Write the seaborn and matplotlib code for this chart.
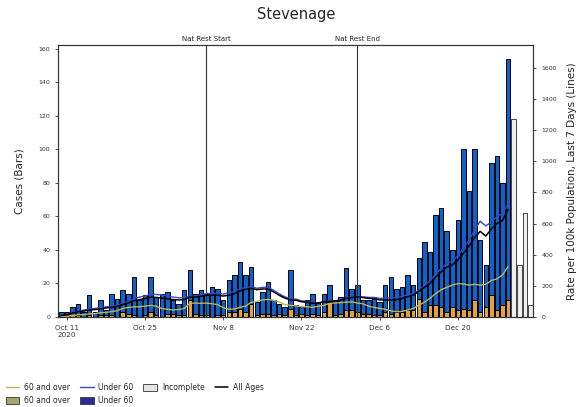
import matplotlib
matplotlib.use("Agg")
import matplotlib.pyplot as plt
import matplotlib.transforms as mtransforms
from matplotlib.patches import Patch
from matplotlib.lines import Line2D
import pandas as pd
import seaborn as sns

# daily cases, complete days
dates = pd.date_range("2020-10-10", "2020-12-29", freq="D")
over60 = [0, 1, 1, 1, 0, 1, 0, 1, 1, 1, 0, 3, 2, 1, 0, 1, 3, 1, 0, 2, 2, 1,
          1, 10, 2, 1, 1, 0, 1, 1, 3, 3, 5, 3, 8, 1, 2, 2, 1, 2, 1, 5, 1, 2, 1, 2, 1, 3, 9, 1, 2, 4,
          4, 3, 2, 2, 1, 1, 3, 2, 3, 3, 4, 4, 11, 3, 7, 7, 6, 3, 6, 4, 5, 4, 10, 3, 6, 13, 4, 7, 10]
under60 = [3, 2, 5, 7, 3, 12, 3, 9, 3, 13, 11, 13, 12, 23, 10, 12, 21, 11, 14, 13, 8, 7,
           15, 18, 12, 15, 13, 18, 16, 9, 19, 22, 28, 22, 22, 8, 13, 19, 9, 6, 5, 23, 6, 4, 9, 12, 8, 11, 10, 9, 10, 25,
           13, 16, 8, 8, 11, 8, 16, 22, 14, 15, 21, 15, 24, 42, 32, 54, 59, 48, 34, 54, 95, 71, 90, 43, 25, 79, 92, 73, 144]

# incomplete days
incomplete_dates = pd.date_range("2020-12-30", "2021-01-02", freq="D")
incomplete = [118, 31, 62, 7]

# rate per 100k, last 7 days
rate_over60 = [0, 5, 10, 15, 15, 20, 22, 28, 30, 35, 40, 55, 62, 65, 66, 70, 75, 70, 55, 50, 45, 48,
               55, 88, 90, 88, 90, 85, 80, 60, 50, 52, 62, 70, 95, 100, 110, 113, 108, 98, 80, 75, 72, 66, 66, 62, 70, 75, 88, 90, 92, 95,
               98, 90, 85, 70, 62, 55, 50, 40, 34, 36, 45, 55, 75, 95, 120, 150, 175, 190, 205, 215, 212, 205, 210, 205, 210, 235, 245, 270, 325]
rate_under60 = [10, 17, 28, 40, 44, 52, 55, 60, 66, 70, 76, 88, 100, 118, 128, 135, 146, 145, 142, 136, 128, 124,
                124, 135, 135, 142, 150, 152, 152, 148, 155, 165, 182, 190, 195, 185, 190, 192, 172, 150, 130, 118, 115, 104, 100, 95, 92, 100, 102, 104, 110, 124,
                128, 134, 130, 126, 126, 120, 122, 124, 126, 132, 144, 152, 172, 205, 230, 275, 312, 345, 360, 392, 445, 492, 560, 615, 585, 610, 645, 665, 730]
rate_all = [10, 15, 25, 35, 38, 45, 48, 52, 58, 62, 68, 80, 90, 105, 112, 118, 128, 126, 122, 118, 112, 110,
            112, 128, 128, 133, 140, 140, 140, 135, 140, 150, 168, 178, 184, 176, 180, 180, 162, 140, 122, 110, 108, 98, 95, 90, 88, 98, 100, 102, 108, 120,
            125, 130, 125, 120, 118, 110, 110, 110, 112, 118, 130, 140, 165, 190, 215, 255, 290, 320, 335, 365, 410, 455, 510, 550, 520, 565, 600, 620, 690]

events = ["2020-11-05", "2020-12-02"]
event_labels = ["Nat Rest Start", "Nat Rest End"]
tick_dates = ["2020-10-11", "2020-10-25", "2020-11-08", "2020-11-22", "2020-12-06", "2020-12-20"]
tick_labels = ["Oct 11\n2020", "Oct 25", "Nov 8", "Nov 22", "Dec 6", "Dec 20"]

orange = "#e4a23e"
blue = "#0e62cc"
olive_line = "#b9b45a"
blue_line = "#3b45c4"

sns.set_style("ticks")
plt.rcParams["font.family"] = ["DejaVu Sans"]

fig = plt.figure(figsize=(5.79, 4.07), dpi=100)
ax = fig.add_axes([0.101, 0.221, 0.82, 0.668])
ax2 = ax.twinx()

ax.bar(dates, over60, width=0.8, color=orange, edgecolor="black", linewidth=0.7)
ax.bar(dates, under60, bottom=over60, width=0.8, color=blue, edgecolor="black", linewidth=0.7)
ax.bar(incomplete_dates, incomplete, width=0.8, color="#efefef", edgecolor="#444444", linewidth=0.7)

for d in events:
    ax.axvline(pd.Timestamp(d), color="#333333", linewidth=0.8)
trans = mtransforms.blended_transform_factory(ax.transData, ax.transAxes)
for d, lab in zip(events, event_labels):
    ax.text(pd.Timestamp(d), 1.012, lab, transform=trans, ha="center", va="bottom", fontsize=5, color="#222222")

sns.lineplot(x=dates, y=rate_over60, ax=ax2, color=olive_line, linewidth=1.0)
sns.lineplot(x=dates, y=rate_under60, ax=ax2, color=blue_line, linewidth=1.0)
sns.lineplot(x=dates, y=rate_all, ax=ax2, color="black", linewidth=1.1)

ax.set_xlim(pd.Timestamp("2020-10-09 12:00"), pd.Timestamp("2021-01-02 12:00"))
ax.set_ylim(0, 162)
ax.set_yticks(range(0, 161, 20))
ax2.set_ylim(0, 1745)
ax2.set_yticks(range(0, 1601, 200))
ax.set_xticks(pd.to_datetime(tick_dates))
ax.set_xticklabels(tick_labels, ha="center")

for a in (ax, ax2):
    a.tick_params(labelsize=4.5, length=2.5, width=0.6, colors="#333333")
    for s in a.spines.values():
        s.set_linewidth(0.8)
        s.set_color("#333333")
ax.tick_params(axis="x", labelsize=5.2)

ax.set_ylabel("Cases (Bars)", fontsize=7.5, labelpad=10)
ax2.set_ylabel("Rate per 100k Population, Last 7 Days (Lines)", fontsize=7.5, labelpad=7)
ax.set_xlabel("")
fig.text(0.511, 1 - 15 / 407, "Stevenage", ha="center", va="center", fontsize=10.5)

handles = [
    Line2D([], [], color=olive_line, linewidth=1.0),
    Patch(facecolor="#a9a66c", edgecolor="#333333", linewidth=0.6),
    Line2D([], [], color=blue_line, linewidth=1.0),
    Patch(facecolor="#2c2c96", edgecolor="#333333", linewidth=0.6),
    Patch(facecolor="#e4e4e4", edgecolor="#333333", linewidth=0.6),
    Line2D([], [], color="black", linewidth=1.1),
]
labels = ["60 and over", "60 and over", "Under 60", "Under 60", "Incomplete", "All Ages"]
fig.legend(handles, labels, loc="lower left", bbox_to_anchor=(-0.002, -0.012), ncol=4,
           frameon=False, fontsize=5.5, handlelength=1.8, handleheight=0.9,
           columnspacing=1.3, handletextpad=0.6, labelspacing=0.5)

fig.savefig("out.png", dpi=100)
